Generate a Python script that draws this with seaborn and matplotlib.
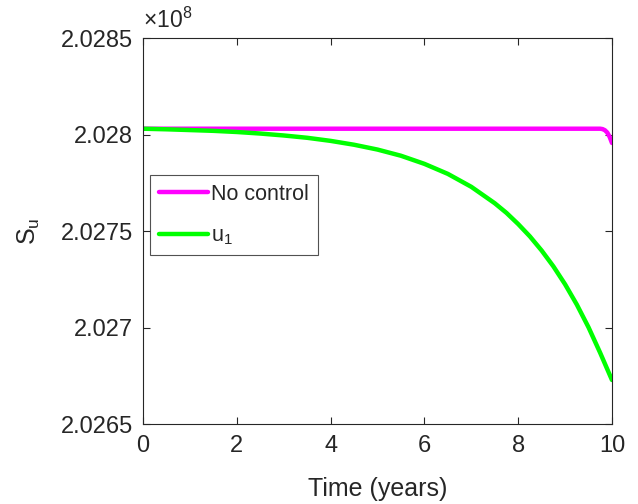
import matplotlib
matplotlib.use("Agg")
import matplotlib.pyplot as plt
import seaborn as sns
import pandas as pd
from matplotlib.ticker import FuncFormatter, FixedLocator

# Data (values in units of 1e8)
t_nc = [0, 1, 2, 3, 4, 5, 6, 7, 8, 9, 9.6, 9.75, 9.8, 9.85, 9.9, 9.95, 10]
s_nc = [2.02803, 2.02803, 2.02803, 2.02803, 2.02803, 2.02803, 2.02803, 2.02803,
        2.02803, 2.02803, 2.02803, 2.02803, 2.028028, 2.028022, 2.028010,
        2.027988, 2.027956]
t_u1 = [0, 0.5, 1, 1.5, 2, 2.5, 3, 3.5, 4, 4.5, 5, 5.5, 6, 6.5, 7, 7.5, 7.75,
        8, 8.25, 8.5, 8.75, 9, 9.25, 9.5, 9.75, 10]
s_u1 = [2.028030, 2.028027, 2.028023, 2.028019, 2.028013, 2.028005, 2.027995,
        2.027983, 2.027967, 2.027947, 2.027922, 2.027890, 2.027848, 2.027796,
        2.027729, 2.027644, 2.027594, 2.027536, 2.027472, 2.027399, 2.027317,
        2.027224, 2.027119, 2.027001, 2.026868, 2.026728]
x_ticks = [0, 2, 4, 6, 8, 10]
y_ticks = [2.0265, 2.027, 2.0275, 2.028, 2.0285]
series_names = ["No control", "u$_1$"]
colors = ["#FF00FF", "#00FF00"]

df = pd.concat([
    pd.DataFrame({"t": t_nc, "S": [v * 1e8 for v in s_nc], "series": series_names[0]}),
    pd.DataFrame({"t": t_u1, "S": [v * 1e8 for v in s_u1], "series": series_names[1]}),
])

sns.set_style("white")
plt.rcParams["font.family"] = ["Liberation Sans", "DejaVu Sans"]
plt.rcParams["mathtext.fontset"] = "custom"
plt.rcParams["mathtext.rm"] = "Liberation Sans"
plt.rcParams["mathtext.it"] = "Liberation Sans"

fig = plt.figure(figsize=(6.38, 5.04), dpi=100)
ax = fig.add_axes([0.2241, 0.1587, 0.7351, 0.7659])

sns.lineplot(data=df, x="t", y="S", hue="series", palette=colors,
             hue_order=series_names, linewidth=3.2, ax=ax, sort=False,
             estimator=None)

ax.set_xlim(0, 10)
ax.set_ylim(y_ticks[0] * 1e8, y_ticks[-1] * 1e8)
ax.xaxis.set_major_locator(FixedLocator(x_ticks))
ax.yaxis.set_major_locator(FixedLocator([v * 1e8 for v in y_ticks]))
ax.yaxis.set_major_formatter(FuncFormatter(lambda v, p: f"{v / 1e8:g}"))

spine_c = "#262626"
for s in ax.spines.values():
    s.set_visible(True)
    s.set_color(spine_c)
    s.set_linewidth(0.8)
ax.tick_params(direction="in", length=5, width=0.8, color=spine_c,
               labelsize=17, labelcolor="#262626", top=True, right=True,
               bottom=True, left=True)
ax.tick_params(axis="x", pad=8)
ax.tick_params(axis="y", pad=7)

ax.set_xlabel("Time (years)", fontsize=18, color="#262626", labelpad=14)
ax.set_ylabel("S$_u$", fontsize=18, color="#262626", labelpad=14)

ax.text(0.0, 1.012, r"$\times$10$^8$", transform=ax.transAxes,
        fontsize=16.5, color="#262626", ha="left", va="bottom")

leg = ax.legend(loc="upper left", bbox_to_anchor=(0.015, 0.645), fontsize=15.5,
                frameon=True, fancybox=False, handlelength=2.3,
                handletextpad=0.15, borderpad=0.4, labelspacing=0.95,
                borderaxespad=0)
leg.get_frame().set_edgecolor(spine_c)
leg.get_frame().set_linewidth(0.8)
leg.set_title(None)

fig.savefig("out.png", dpi=100)
